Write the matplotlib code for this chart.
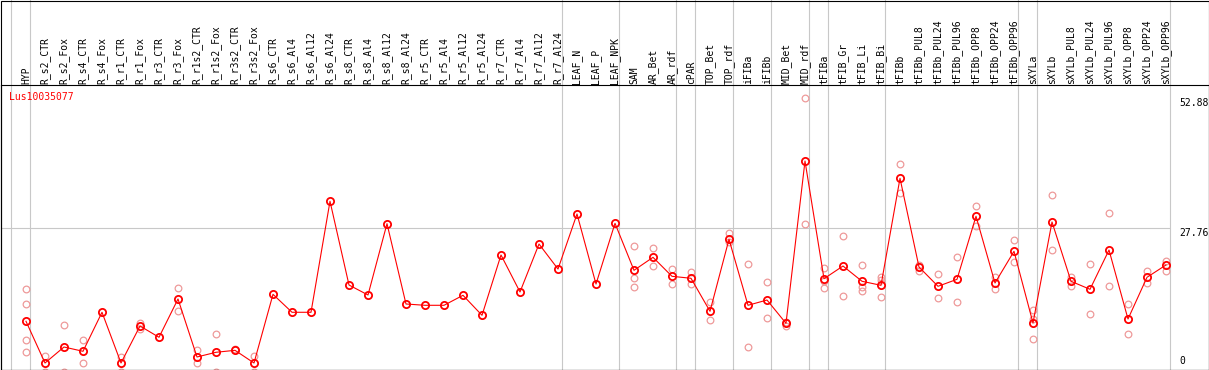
import matplotlib
matplotlib.use("Agg")
import matplotlib.pyplot as plt
from matplotlib.patches import Rectangle

gene_id = "Lus10035077"

categories = ["HYP", "R_s2_CTR", "R_s2_Fox", "R_s4_CTR", "R_s4_Fox", "R_r1_CTR", "R_r1_Fox",
              "R_r3_CTR", "R_r3_Fox", "R_r1s2_CTR", "R_r1s2_Fox", "R_r3s2_CTR", "R_r3s2_Fox",
              "R_s6_CTR", "R_s6_Al4", "R_s6_Al12", "R_s6_Al24", "R_s8_CTR", "R_s8_Al4", "R_s8_Al12",
              "R_s8_Al24", "R_r5_CTR", "R_r5_Al4", "R_r5_Al12", "R_r5_Al24", "R_r7_CTR", "R_r7_Al4",
              "R_r7_Al12", "R_r7_Al24", "LEAF_N", "LEAF_P", "LEAF_NPK", "SAM", "AR_Bet", "AR_rdf",
              "cPAR", "TOP_Bet", "TOP_rdf", "iFIBa", "iFIBb", "MID_Bet", "MID_rdf", "tFIBa",
              "tFIB_Gr", "tFIB_Li", "tFIB_Bi", "tFIBb", "tFIBb_PUL8", "tFIBb_PUL24", "tFIBb_PUL96",
              "tFIBb_OPP8", "tFIBb_OPP24", "tFIBb_OPP96", "sXYLa", "sXYLb", "sXYLb_PUL8",
              "sXYLb_PUL24", "sXYLb_PUL96", "sXYLb_OPP8", "sXYLb_OPP24", "sXYLb_OPP96"]

# mean expression per sample
mean_values = [9.80, 1.74, 4.83, 4.00, 11.54, 1.74, 8.89, 6.71, 14.11, 2.90, 3.81, 4.19, 1.74,
               15.01, 11.54, 11.54, 32.99, 16.81, 14.88, 28.66, 13.14, 12.89, 12.89, 14.82, 10.96,
               22.61, 15.46, 24.73, 19.90, 30.53, 17.00, 28.73, 19.65, 22.16, 18.49, 18.11, 11.73,
               25.64, 12.89, 13.91, 9.41, 40.77, 18.03, 20.48, 17.53, 16.75, 37.43, 20.29, 16.56,
               17.91, 30.09, 17.20, 23.32, 9.47, 28.99, 17.53, 15.98, 23.57, 10.24, 18.30, 20.68]

# individual replicates (only the ones visible apart from the mean)
replicates = [[16.04, 13.08, 6.13, 3.81], [3.09, 0.0], [9.02, 0.0], [6.13, 1.74], [], [2.90, 0.0],
              [9.53, 8.37], [], [16.23, 11.79], [4.25, 1.74], [7.34, 0.0], [4.39], [3.09, 0.0],
              [], [], [], [], [], [], [], [], [], [], [], [], [], [], [], [], [], [], [],
              [24.29, 18.22, 16.37], [23.90, 20.43], [19.90, 17.06], [19.38, 17.06], [13.53, 9.99],
              [26.80, 25.12], [20.81, 4.77], [17.33, 10.43], [9.72, 8.95], [52.88, 28.54],
              [20.10, 16.17, 17.58], [26.28, 14.69], [20.62, 16.37, 15.59], [18.36, 17.78, 14.43],
              [40.14, 34.53], [20.73, 19.52], [18.94, 14.24], [22.22, 13.53], [32.08, 28.21],
              [18.36, 15.98], [25.51, 21.20], [11.98, 10.18, 6.38], [34.14, 23.52], [18.36, 16.62],
              [20.87, 11.21], [30.67, 16.62], [13.08, 7.29], [19.52, 17.26], [21.51, 19.57]]

# group separators sit just left of these sample indices
group_starts = [0, 1, 29, 32, 35, 36, 38, 40, 42, 43, 46, 53, 54, 61]

y_ticks = [0, 27.76, 52.88]
y_labels = ["0", "27.76", "52.88"]

W, H = 1209, 370
HEADER = 85  # header height in px
mono = "DejaVu Sans Mono"
grey = "#c8c8c8"


def main():
    fig = plt.figure(figsize=(W / 100, H / 100), dpi=100)
    ax = fig.add_axes([0.5 / W, 0.5 / H, (W - 1) / W, (H - HEADER - 0.5) / H])

    # 19 px per column, first column centred at 26 px, 5.175 px per unit, zero at 372 px
    ax.set_xlim((0.5 - 26) / 19, (W - 0.5 - 26) / 19)
    ax.set_ylim((372 - (H - 0.5)) / 5.175, (372 - HEADER) / 5.175)
    ax.set_xticks([])
    ax.set_yticks([])
    for sp in ax.spines.values():
        sp.set_linewidth(0.8)
        sp.set_color("black")

    # outer frame round the header too
    fig.patches.append(Rectangle((0.5 / W, 0.5 / H), (W - 1) / W, (H - 1) / H, transform=fig.transFigure,
                                 fill=False, lw=0.8, ec="black"))

    top = (H - 0.5) / (H - HEADER - 0.5)
    for g in group_starts:
        ax.axvline(g - 0.79, ymin=0, ymax=top, clip_on=False, color=grey, lw=0.8, zorder=0)
    ax.hlines(y_ticks[1], ax.get_xlim()[0], len(categories) - 0.79, color=grey, lw=0.8, zorder=0)

    # replicates
    for i, reps in enumerate(replicates):
        for r in reps:
            ax.plot(i, r, 'o', ms=4.8, mfc='none', mec='#ee9a9a', mew=0.9, zorder=2)

    # mean line
    ax.plot(range(len(categories)), mean_values, '-', c='red', lw=0.8, zorder=3)
    ax.plot(range(len(categories)), mean_values, 'o', ms=5.2, mfc='none', mec='red', mew=1.3, zorder=4)

    # sample names in the header
    for i, name in enumerate(categories):
        ax.text(i, 1 + 1.5 / (H - HEADER), name, rotation=90, ha='center', va='bottom',
                transform=ax.get_xaxis_transform(), fontsize=7, family=mono, clip_on=False)

    ax.text(8.8 / W, 0.958, gene_id, transform=ax.transAxes, color='red', fontsize=7, family=mono,
            va='center', ha='left')

    # y labels on the right
    xl = len(categories) - 0.32
    for v, lab in zip(y_ticks, y_labels):
        if v == 0:
            ax.text(xl, ax.get_ylim()[0] + 0.6, lab, fontsize=7, family=mono, va='bottom', ha='left')
        else:
            ax.text(xl, v, lab, fontsize=7, family=mono, va='top', ha='left')

    fig.savefig("out.png", dpi=100)


if __name__ == '__main__':
    main()
